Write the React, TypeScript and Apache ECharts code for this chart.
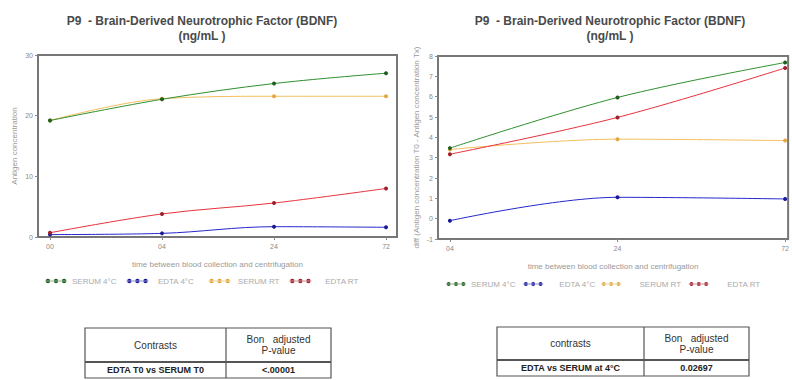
import React, { useEffect, useRef } from "react";
import * as echarts from "echarts";

const TITLE_LINE1 = "P9  - Brain-Derived Neurotrophic Factor (BDNF)";
const TITLE_LINE2 = "(ng/mL )";

const seriesNames = ["SERUM 4°C", "EDTA 4°C", "SERUM RT", "EDTA RT"];
const seriesColors = ["#2f8f2f", "#2626cc", "#f2be5c", "#e8323c"];
const markerColors = ["#1f5f1f", "#1a1a99", "#e0a840", "#a0202a"];

// Left chart
const leftCategories = ["00", "04", "24", "72"];
const leftSerum4 = [19.2, 22.7, 25.3, 27.0];
const leftEdta4 = [0.4, 0.6, 1.7, 1.6];
const leftSerumRT = [19.2, 22.8, 23.2, 23.2];
const leftEdtaRT = [0.7, 3.8, 5.6, 8.0];
const leftYTicks = { min: 0, max: 30, interval: 10 };

// Right chart
const rightCategories = ["04", "24", "72"];
const rightSerum4 = [3.47, 5.96, 7.68];
const rightEdta4 = [-0.1, 1.05, 0.97];
const rightSerumRT = [3.4, 3.91, 3.84];
const rightEdtaRT = [3.17, 4.98, 7.41];
const rightYTicks = { min: -1, max: 8, interval: 1 };

const xAxisTitle = "time between blood collection and centrifugation";
const leftYTitle = "Antigen concentration";
const rightYTitle = "diff (Antigen concentration T0 - Antigen concentration Tx)";

// Tables
const leftTableHeader = ["Contrasts", "Bon   adjusted\nP-value"];
const leftTableRow = ["EDTA T0 vs SERUM T0", "<.00001"];
const rightTableHeader = ["contrasts", "Bon   adjusted\nP-value"];
const rightTableRow = ["EDTA vs SERUM at 4°C", "0.02697"];

const FONT = "Liberation Sans, Arial, sans-serif";
const LEGEND_ICON =
  "path://M0,4.5L30,4.5L30,5.5L0,5.5Z M1,5a3,3 0 1,0 6,0a3,3 0 1,0 -6,0Z M12,5a3,3 0 1,0 6,0a3,3 0 1,0 -6,0Z M23,5a3,3 0 1,0 6,0a3,3 0 1,0 -6,0Z";

// legend spacing (leading / trailing non-breaking spaces per item)
const leftLegendLead = [0, 2, 1, 4];
const leftLegendTrail = [4, 6, 4, 0];
const rightLegendLead = [0, 5, 6, 6];
const rightLegendTrail = [3, 2, 3, 0];

const NBSP = "\u00a0";

function toPoints(values: number[]) {
  return values.map((v, i) => [i, v]);
}

function tableGraphics(
  x0: number,
  x1: number,
  xDiv: number,
  y0: number,
  yMid: number,
  y1: number,
  header: string[],
  row: string[]
) {
  const stroke = "#555";
  const els: any[] = [
    {
      type: "rect",
      shape: { x: x0, y: y0, width: x1 - x0, height: y1 - y0 },
      style: { fill: "#fff", stroke, lineWidth: 1.2 },
    },
    {
      type: "line",
      shape: { x1: x0, y1: yMid, x2: x1, y2: yMid },
      style: { stroke, lineWidth: 2 },
    },
    {
      type: "line",
      shape: { x1: xDiv, y1: y0, x2: xDiv, y2: y1 },
      style: { stroke, lineWidth: 1.2 },
    },
    {
      type: "text",
      x: (x0 + xDiv) / 2,
      y: (y0 + yMid) / 2,
      style: {
        text: header[0],
        fontSize: 10,
        fontFamily: FONT,
        fill: "#333",
        align: "center",
        verticalAlign: "middle",
      },
    },
    {
      type: "text",
      x: (xDiv + x1) / 2,
      y: (y0 + yMid) / 2,
      style: {
        text: header[1],
        fontSize: 10,
        lineHeight: 11,
        fontFamily: FONT,
        fill: "#333",
        align: "center",
        verticalAlign: "middle",
      },
    },
    {
      type: "text",
      x: (x0 + xDiv) / 2,
      y: (yMid + y1) / 2,
      style: {
        text: row[0],
        fontSize: 9,
        fontWeight: "bold",
        fontFamily: FONT,
        fill: "#222",
        align: "center",
        verticalAlign: "middle",
      },
    },
    {
      type: "text",
      x: (xDiv + x1) / 2,
      y: (yMid + y1) / 2,
      style: {
        text: row[1],
        fontSize: 9,
        fontWeight: "bold",
        fontFamily: FONT,
        fill: "#222",
        align: "center",
        verticalAlign: "middle",
      },
    },
  ];
  return els;
}

export default function App() {
  const ref = useRef<HTMLDivElement>(null);

  useEffect(() => {
    if (!ref.current) return;
    const chart = echarts.init(ref.current, undefined, { renderer: "svg" });

    const leftData = [leftSerum4, leftEdta4, leftSerumRT, leftEdtaRT];
    const rightData = [rightSerum4, rightEdta4, rightSerumRT, rightEdtaRT];

    const makeSeries = (data: number[][], idx: number) =>
      data.map((vals, i) => ({
        name: seriesNames[i],
        type: "line",
        xAxisIndex: idx,
        yAxisIndex: idx,
        data: toPoints(vals),
        smooth: 0.35,
        symbol: "circle",
        symbolSize: 4,
        lineStyle: { color: seriesColors[i], width: 1 },
        itemStyle: { color: markerColors[i] },
        z: i === 2 ? 1 : 2,
      }));

    const axisLabelStyle = { fontSize: 7, color: "#888", fontFamily: FONT };
    const nameStyle = { fontSize: 8, color: "#999", fontFamily: FONT };

    const padName = (n: string, lead: number[], trail: number[]) => {
      const i = seriesNames.indexOf(n);
      return NBSP.repeat(lead[i] || 0) + n + NBSP.repeat(trail[i] || 0);
    };

    const legends: any[] = [
      {
        data: seriesNames,
        left: 40,
        top: 272,
        align: "left",
        icon: LEGEND_ICON,
        itemWidth: 22,
        itemHeight: 6,
        itemGap: 1,
        formatter: (n: string) => padName(n, leftLegendLead, leftLegendTrail),
        textStyle: { fontSize: 8, color: "#aaa", fontFamily: FONT },
        selectedMode: false,
      },
      {
        data: seriesNames,
        left: 441,
        top: 275,
        align: "left",
        icon: LEGEND_ICON,
        itemWidth: 20,
        itemHeight: 6,
        itemGap: 1,
        formatter: (n: string) => padName(n, rightLegendLead, rightLegendTrail),
        textStyle: { fontSize: 8, color: "#aaa", fontFamily: FONT },
        selectedMode: false,
      },
    ];

    const titleStyle = {
      fontSize: 12,
      fontWeight: "bold",
      color: "#4a4a4a",
      fontFamily: FONT,
      lineHeight: 15,
      align: "center",
    };

    const option: any = {
      animation: false,
      backgroundColor: "#fff",
      title: [
        { text: TITLE_LINE1 + "\n" + TITLE_LINE2, left: 197, top: 8, textAlign: "center", textStyle: titleStyle },
        { text: TITLE_LINE1 + "\n" + TITLE_LINE2, left: 605, top: 8, textAlign: "center", textStyle: titleStyle },
      ],
      legend: legends,
      grid: [
        {
          left: 38,
          right: 395,
          top: 55,
          bottom: 143,
          show: true,
          borderColor: "#777",
          borderWidth: 2,
          containLabel: false,
        },
        {
          left: 438,
          right: 1,
          top: 56,
          bottom: 141,
          show: true,
          borderColor: "#777",
          borderWidth: 2,
          containLabel: false,
        },
      ],
      xAxis: [
        {
          gridIndex: 0,
          type: "value",
          min: -0.107,
          max: 3.098,
          name: xAxisTitle,
          nameLocation: "middle",
          nameGap: 23,
          nameTextStyle: nameStyle,
          axisLine: { show: false, onZero: false },
          splitLine: { show: false },
          axisTick: {
            show: true,
            customValues: [0, 1, 2, 3],
            length: 3,
            lineStyle: { color: "#888" },
          },
          axisLabel: {
            ...axisLabelStyle,
            customValues: [0, 1, 2, 3],
            margin: 6,
            formatter: (v: number) => leftCategories[Math.round(v)] ?? "",
          },
        },
        {
          gridIndex: 1,
          type: "value",
          min: -0.071,
          max: 2.018,
          name: xAxisTitle,
          nameLocation: "middle",
          nameGap: 23,
          nameTextStyle: nameStyle,
          axisLine: { show: false, onZero: false },
          splitLine: { show: false },
          axisTick: {
            show: true,
            customValues: [0, 1, 2],
            length: 3,
            lineStyle: { color: "#888" },
          },
          axisLabel: {
            ...axisLabelStyle,
            customValues: [0, 1, 2],
            margin: 6,
            formatter: (v: number) => rightCategories[Math.round(v)] ?? "",
          },
        },
      ],
      yAxis: [
        {
          gridIndex: 0,
          type: "value",
          min: leftYTicks.min,
          max: leftYTicks.max,
          interval: leftYTicks.interval,
          name: leftYTitle,
          nameLocation: "middle",
          nameGap: 20,
          nameTextStyle: nameStyle,
          axisLine: { show: false, onZero: false },
          splitLine: { show: false },
          axisTick: { show: true, length: 3, lineStyle: { color: "#888" } },
          axisLabel: { ...axisLabelStyle, margin: 5 },
        },
        {
          gridIndex: 1,
          type: "value",
          min: rightYTicks.min,
          max: rightYTicks.max,
          interval: rightYTicks.interval,
          name: rightYTitle,
          nameLocation: "middle",
          nameGap: 18,
          nameTextStyle: nameStyle,
          axisLine: { show: false, onZero: false },
          splitLine: { show: false },
          axisTick: { show: true, length: 3, lineStyle: { color: "#888" } },
          axisLabel: { ...axisLabelStyle, margin: 5 },
        },
      ],
      series: [...makeSeries(leftData, 0), ...makeSeries(rightData, 1)],
      graphic: [
        ...tableGraphics(85, 331, 226, 328, 362, 378, leftTableHeader, leftTableRow),
        ...tableGraphics(497, 749, 644, 327, 360, 376, rightTableHeader, rightTableRow),
      ],
    };

    chart.setOption(option);
    return () => chart.dispose();
  }, []);

  return (
    <div
      ref={ref}
      style={{ position: "fixed", left: 0, top: 0, width: 792, height: 380 }}
    />
  );
}
